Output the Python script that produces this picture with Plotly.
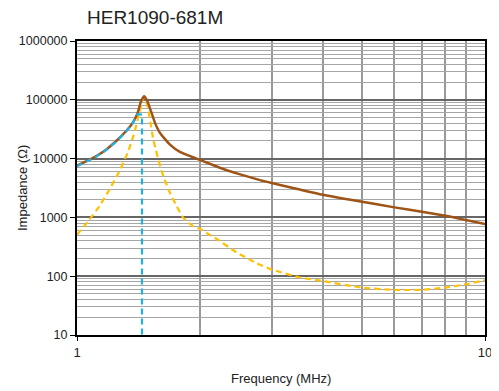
import plotly.graph_objects as go

# |Z| (brown)
z_freq = [1.0, 1.052, 1.113, 1.178, 1.246, 1.318, 1.369, 1.408, 1.435, 1.462, 1.49, 1.518, 1.553, 1.597, 1.69, 1.787, 2.0, 2.24, 2.33, 2.5, 2.809, 3.0, 4.0, 5.0, 6.0, 7.0, 8.0, 10.0]
z_val = [7600, 9000, 10950, 14200, 19700, 29200, 40500, 60000, 94600, 115000, 92000, 64000, 40500, 27400, 17300, 13000, 9500, 7000, 6350, 5450, 4300, 3850, 2430, 1845, 1480, 1245, 1065, 770]

# X (cyan) - reactance, drops at resonance
x_freq = [1.0, 1.052, 1.113, 1.178, 1.246, 1.318, 1.369, 1.408, 1.443, 1.443]
x_val = [7400, 8800, 10700, 13900, 19300, 28600, 39500, 57000, 56000, 1]

# R (orange)
r_freq = [1.0, 1.072, 1.134, 1.2, 1.27, 1.331, 1.382, 1.421, 1.449, 1.464, 1.49, 1.51, 1.538, 1.561, 1.582, 1.628, 1.69, 1.755, 1.822, 1.928, 2.0, 2.08, 2.2, 2.46, 2.76, 2.98, 3.52, 4.0, 4.98, 5.98, 7.0, 7.98, 9.0, 10.0]
r_val = [507, 912, 1540, 2960, 6080, 12500, 27400, 60000, 101000, 110000, 75000, 45000, 21100, 14000, 9620, 5000, 2600, 1550, 980, 703, 640, 542, 430, 254, 165, 132, 95, 83, 64, 58.5, 58.5, 64, 73, 85.5]

y_major = [10, 100, 1000, 10000, 100000, 1000000]
y_labels = ["10", "100", "1000", "10000", "100000", "1000000"]
y_minor = [m * 10 ** k for k in range(1, 6) for m in range(2, 10)]
x_major = [1, 10]
x_labels = ["1", "10"]
x_minor = [2, 3, 4, 5, 6, 7, 8, 9]

fig = go.Figure()
fig.add_trace(go.Scatter(x=r_freq, y=r_val, mode="lines",
                         line=dict(color="#FFC000", width=2.2, dash="6px,4px", shape="spline", smoothing=0.4),
                         showlegend=False))
fig.add_trace(go.Scatter(x=z_freq, y=z_val, mode="lines",
                         line=dict(color="#9E5416", width=2.5, shape="spline", smoothing=0.4),
                         showlegend=False))
fig.add_trace(go.Scatter(x=x_freq, y=x_val, mode="lines",
                         line=dict(color="#1FB0E6", width=2.2, dash="6px,4px"),
                         showlegend=False))

# page body has an 8px margin, so the figure is sized to fit inside the window
W, H = 491, 383
L, R, T, B = 69, 14, 33, 56
PW, PH = W - L - R, H - T - B
font = "Liberation Sans, Arial, sans-serif"
fig.update_layout(
    width=W, height=H,
    margin=dict(l=L, r=R, t=T, b=B, autoexpand=False),
    paper_bgcolor="white", plot_bgcolor="white",
    font=dict(family=font, size=13, color="#222"),
    title=dict(text="HER1090-681M", x=79/W, xanchor="left", xref="container",
               y=1-9/H, yanchor="middle", yref="container",
               font=dict(size=19, color="#222", family=font)),
    annotations=[
        dict(text="Frequency (MHz)", xref="paper", yref="paper", x=0.5, y=-43/PH,
             xanchor="center", yanchor="middle", showarrow=False, font=dict(size=13, color="#222")),
        dict(text="Impedance (Ω)", xref="paper", yref="paper", x=-55/PW, y=0.5,
             xanchor="center", yanchor="middle", textangle=-90, showarrow=False, font=dict(size=13, color="#222")),
    ],
)
fig.update_xaxes(
    type="log", range=[0, 1], automargin=False,
    tickvals=x_major, ticktext=x_labels,
    showgrid=True, gridcolor="#777", gridwidth=1,
    minor=dict(tickvals=x_minor, showgrid=True, gridcolor="#999", gridwidth=1.5, ticks=""),
    showline=True, linecolor="black", linewidth=2, mirror=True,
    ticks="outside", ticklen=4, tickcolor="black",
    tickfont=dict(size=13),
)
fig.update_yaxes(
    type="log", range=[1, 6], automargin=False,
    tickvals=y_major, ticktext=y_labels,
    showgrid=True, gridcolor="#666", gridwidth=2,
    minor=dict(tickvals=y_minor, showgrid=True, gridcolor="#a6a6a6", gridwidth=1.4, ticks=""),
    showline=True, linecolor="black", linewidth=2, mirror=True,
    ticks="outside", ticklen=5, tickcolor="black",
    tickfont=dict(size=12.5),
)
fig.write_html("out.html")
